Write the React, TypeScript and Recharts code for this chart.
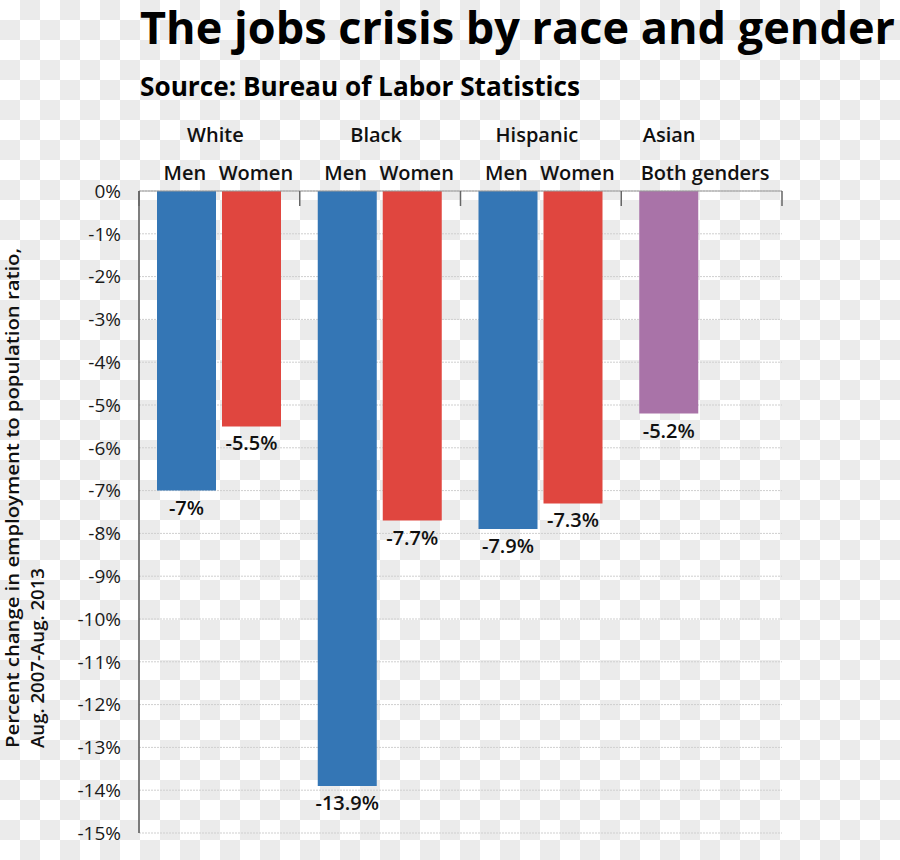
import React from 'react';
import {
  BarChart,
  Bar,
  XAxis,
  YAxis,
  CartesianGrid,
  Cell,
  LabelList,
} from 'recharts';

const races = ['White', 'Black', 'Hispanic', 'Asian'];
// Asian figure covers both genders, so it sits in the first slot
const menChange = [-7, -13.9, -7.9, -5.2];
const womenChange: (number | null)[] = [-5.5, -7.7, -7.3, null];
const yTicks = [0, -1, -2, -3, -4, -5, -6, -7, -8, -9, -10, -11, -12, -13, -14, -15];

const BLUE = '#3476b5';
const RED = '#e0463f';
const PURPLE = '#a973a8';

const FONT = "'Open Sans', 'Noto Sans', sans-serif";

const PLOT_TOP = 191;
const PLOT_LEFT = 139;
const PLOT_RIGHT = 782;
const BAND = (PLOT_RIGHT - PLOT_LEFT) / races.length;
const BAR = 59;
const GAP = 6;

const data = races.map((race, i) => ({
  race,
  men: menChange[i],
  women: womenChange[i],
}));

const RaceTick = (props: any) => {
  const { x, payload } = props;
  const i = races.indexOf(payload.value);
  const both = womenChange[i] == null;
  const menX = x - (BAR + GAP) / 2;
  const womenX = x + (BAR + GAP) / 2;
  const txt = { fontFamily: FONT, fontSize: 20, fontWeight: 600, fill: '#111' };
  return (
    <g>
      <line x1={x - BAND / 2} y1={PLOT_TOP} x2={x - BAND / 2} y2={PLOT_TOP + 15} stroke='#666' strokeWidth={1.5} />
      {i === races.length - 1 && (
        <line x1={x + BAND / 2} y1={PLOT_TOP} x2={x + BAND / 2} y2={PLOT_TOP + 15} stroke='#666' strokeWidth={1.5} />
      )}
      <text x={both ? menX : x - 4} y={142} textAnchor='middle' {...txt}>
        {payload.value}
      </text>
      {both ? (
        <text x={menX - BAR / 2 + 1} y={180} textAnchor='start' {...txt}>
          Both genders
        </text>
      ) : (
        <>
          <text x={menX - 2} y={180} textAnchor='middle' {...txt}>Men</text>
          <text x={womenX + 4} y={180} textAnchor='middle' {...txt}>Women</text>
        </>
      )}
    </g>
  );
};

const ValueLabel = (props: any) => {
  const { x, y, width, height, value } = props;
  if (value == null) return null;
  const bottom = Math.max(y, y + height);
  return (
    <text
      x={x + width / 2}
      y={bottom + 24}
      textAnchor='middle'
      fontFamily={FONT}
      fontSize={20}
      fontWeight={600}
      fill='#111'
    >
      {`${value}%`}
    </text>
  );
};

export default function App() {
  return (
    <div
      style={{
        position: 'absolute',
        left: 0,
        top: 0,
        width: 900,
        height: 860,
        overflow: 'hidden',
        background: 'repeating-conic-gradient(#ebebeb 0% 25%, #ffffff 0% 50%) 0 0 / 40px 40px',
      }}
    >
      <div style={{ position: 'absolute', left: 0, top: 0 }}>
        <BarChart
          width={900}
          height={860}
          data={data}
          margin={{ top: PLOT_TOP - 80, right: 900 - PLOT_RIGHT, bottom: 27, left: PLOT_LEFT - 60 }}
          barSize={BAR}
          barGap={GAP}
        >
          <CartesianGrid vertical={false} stroke='#cfcfcf' strokeDasharray='2 1' />
          <XAxis
            dataKey='race'
            orientation='top'
            height={80}
            axisLine={{ stroke: '#999' }}
            tickLine={false}
            interval={0}
            tick={<RaceTick />}
          />
          <YAxis
            type='number'
            domain={[-15, 0]}
            ticks={yTicks}
            interval={0}
            width={60}
            tickFormatter={(v) => `${v}%`}
            axisLine={{ stroke: '#555', strokeWidth: 1.5 }}
            tickLine={false}
            tickSize={0}
            tickMargin={18}
            tick={{ fill: '#1a1a1a', fontSize: 19, fontFamily: FONT }}
          />
          <Bar dataKey='men' fill={BLUE} isAnimationActive={false}>
            {data.map((d, i) => (
              <Cell key={i} fill={d.women == null ? PURPLE : BLUE} />
            ))}
            <LabelList dataKey='men' content={ValueLabel} />
          </Bar>
          <Bar dataKey='women' fill={RED} isAnimationActive={false}>
            <LabelList dataKey='women' content={ValueLabel} />
          </Bar>
        </BarChart>
      </div>
      <svg
        width={900}
        height={860}
        style={{ position: 'absolute', left: 0, top: 0, pointerEvents: 'none' }}
      >
        <text
          x={140}
          y={44}
          fontFamily={FONT}
          fontSize={45}
          fontWeight={700}
          fill='#000'
          textLength={755}
          lengthAdjust='spacingAndGlyphs'
        >
          The jobs crisis by race and gender
        </text>
        <text
          x={140}
          y={96}
          fontFamily={FONT}
          fontSize={26}
          fontWeight={700}
          fill='#000'
          textLength={440}
          lengthAdjust='spacingAndGlyphs'
        >
          Source: Bureau of Labor Statistics
        </text>
        <g transform='translate(19, 748) rotate(-90)'>
          <text
            x={0}
            y={0}
            fontFamily={FONT}
            fontSize={18}
            fontWeight={600}
            fill='#111'
            textLength={500}
            lengthAdjust='spacingAndGlyphs'
          >
            Percent change in employment to population ratio,
          </text>
          <text
            x={0}
            y={25}
            fontFamily={FONT}
            fontSize={18}
            fontWeight={600}
            fill='#111'
            textLength={180}
            lengthAdjust='spacingAndGlyphs'
          >
            Aug. 2007-Aug. 2013
          </text>
        </g>
      </svg>
    </div>
  );
}
